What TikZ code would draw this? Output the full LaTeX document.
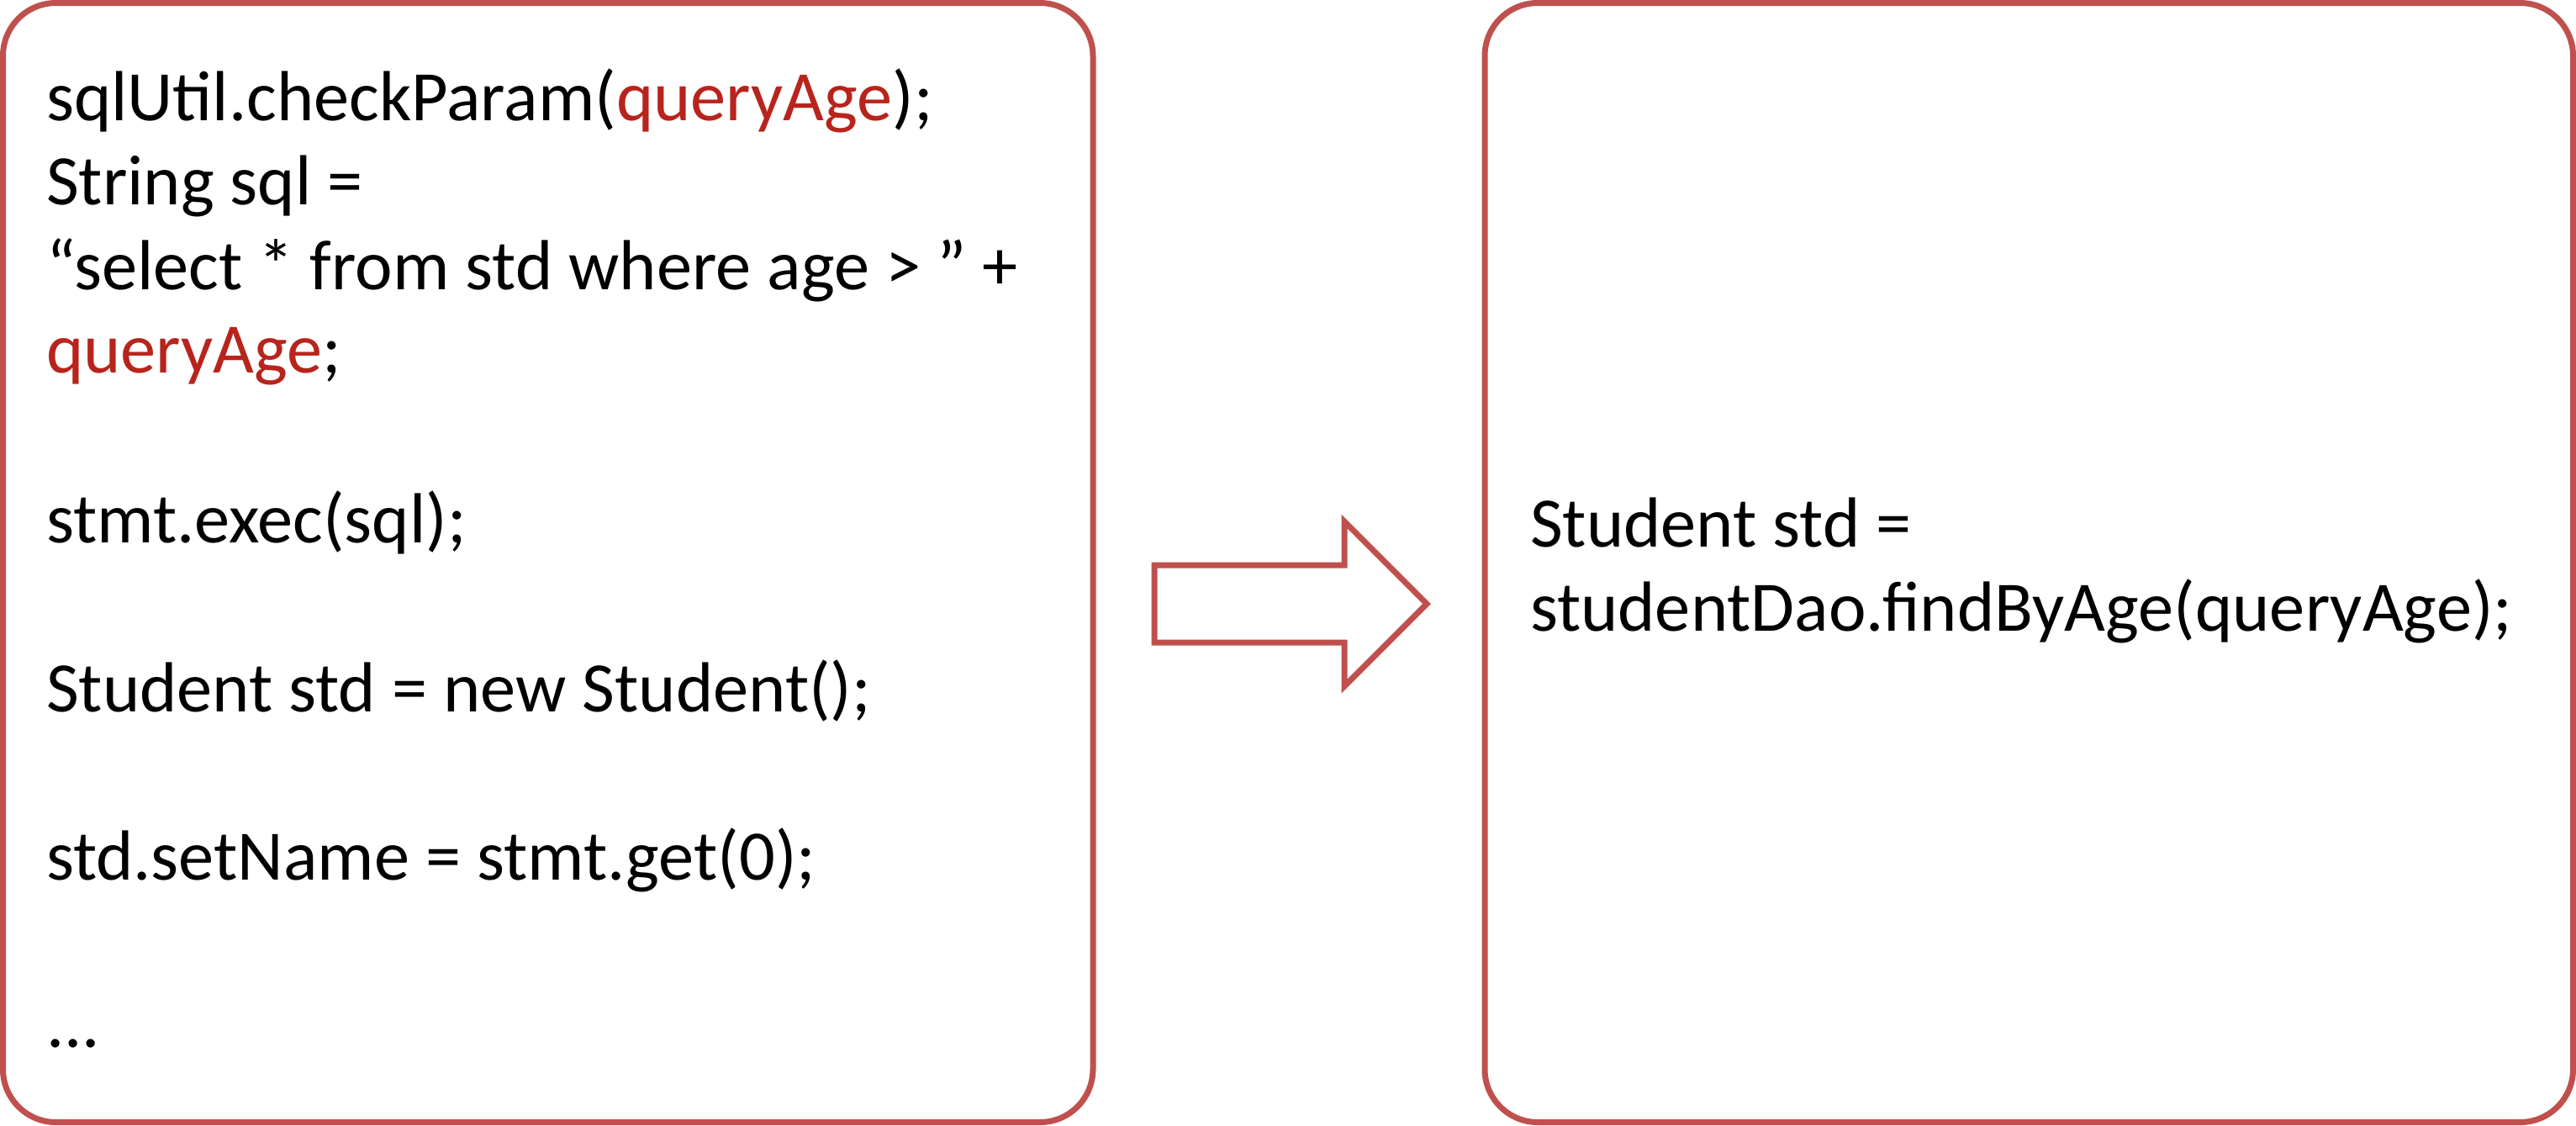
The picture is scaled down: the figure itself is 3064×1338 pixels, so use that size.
\documentclass[tikz,border=0pt]{standalone}
\usepackage{fontspec}
\setmainfont{Carlito}
\definecolor{boxred}{RGB}{192,80,77}
\definecolor{codered}{RGB}{184,36,28}
\begin{document}
\begin{tikzpicture}[x=0.01cm,y=-0.01cm,
  codebox/.style={draw=boxred,line width=0.07cm,rounded corners=0.63cm},
  codeline/.style={anchor=base west,inner sep=0pt,outer sep=0pt,font=\fontsize{24pt}{28.45pt}\selectfont},
  hl/.style={text=codered}]
\useasboundingbox (0,0) rectangle (3064,1338);
% boxes
\draw[codebox] (3.5,3.5) rectangle (1300,1334.5);
\draw[codebox] (1766,3.5) rectangle (3060.5,1334.5);
% block arrow
\draw[draw=boxred,line width=0.07cm,miter limit=10]
  (1373,672) -- (1599,672) -- (1599,620) -- (1697,718) -- (1599,816) -- (1599,764) -- (1373,764) -- cycle;
% left code
\node[codeline] (l1) at (55,143) {sqlUtil.checkParam(\textcolor{codered}{queryAge});};
\node[codeline] (l2) at (55,243) {String sql =};
\node[codeline] (l3) at (55,344) {“select * from std where age > ” +};
\node[codeline] (l4) at (55,443) {\textcolor{codered}{queryAge};};
\node[codeline] (l5) at (55,645) {stmt.exec(sql);};
\node[codeline] (l6) at (55,846) {Student std = new Student();};
\node[codeline] (l7) at (55,1046) {std.setName = stmt.get(0);};
\node[codeline] (l8) at (55,1245) {...};
% right code
\node[codeline] (r1) at (1820,650) {Student std =};
\node[codeline] (r2) at (1820,750) {studentDao.findByAge(queryAge);};
\end{tikzpicture}
\end{document}
